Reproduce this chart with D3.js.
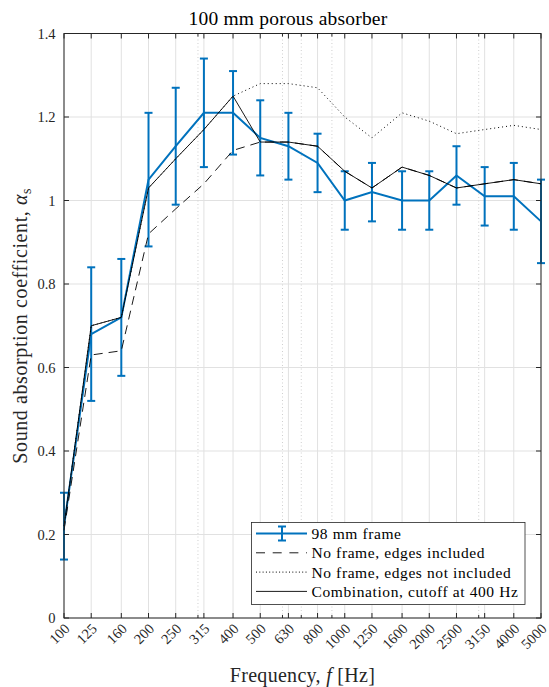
<!DOCTYPE html>
<html>
<head>
<meta charset="utf-8">
<script src="https://cdn.jsdelivr.net/npm/d3@7"></script>
<style>
  body { margin: 0; background: #fff; }
  svg { display: block; font-family: 'Liberation Serif', 'DejaVu Serif', serif; }
</style>
</head>
<body>
<div class="container"></div>
<script>
// third-octave band centre frequencies (Hz)
const freqs = [100, 125, 160, 200, 250, 315, 400, 500, 630, 800, 1000, 1250, 1600, 2000, 2500, 3150, 4000, 5000];
const tickLabels = ['100', '125', '160', '200', '250', '315', '400', '500', '630', '800', '1000', '1250', '1600', '2000', '2500', '3150', '4000', '5000'];
const minorFreqs = [300, 600, 700, 900, 3000];
const yTicks = [0, 0.2, 0.4, 0.6, 0.8, 1, 1.2, 1.4];

// 98 mm frame, mean and error bar limits
const frame98 = [0.22, 0.68, 0.72, 1.05, 1.13, 1.21, 1.21, 1.15, 1.13, 1.09, 1.00, 1.02, 1.00, 1.00, 1.06, 1.01, 1.01, 0.95];
const frame98Low = [0.14, 0.52, 0.58, 0.89, 0.99, 1.08, 1.11, 1.06, 1.05, 1.02, 0.93, 0.95, 0.93, 0.93, 0.99, 0.94, 0.93, 0.85];
const frame98High = [0.30, 0.84, 0.86, 1.21, 1.27, 1.34, 1.31, 1.24, 1.21, 1.16, 1.07, 1.09, 1.07, 1.07, 1.13, 1.08, 1.09, 1.05];

// no frame, edges included
const edgesIn = [0.21, 0.63, 0.64, 0.92, 0.98, 1.04, 1.12, 1.14, 1.14, 1.13, 1.07, 1.03, 1.08, 1.06, 1.03, 1.04, 1.05, 1.04];
// no frame, edges not included
const edgesOut = [0.22, 0.70, 0.72, 1.03, 1.10, 1.17, 1.25, 1.28, 1.28, 1.27, 1.20, 1.15, 1.21, 1.19, 1.16, 1.17, 1.18, 1.17];
// combination, cutoff at 400 Hz
const combined = [0.22, 0.70, 0.72, 1.03, 1.10, 1.17, 1.25, 1.14, 1.14, 1.13, 1.07, 1.03, 1.08, 1.06, 1.03, 1.04, 1.05, 1.04];

const legendLabels = ['98 mm frame', 'No frame, edges included', 'No frame, edges not included', 'Combination, cutoff at 400 Hz'];

const width = 549;
const height = 687;
const margin = { top: 33.5, right: 8, bottom: 69, left: 64 };
const axisColor = '#262626';
const blue = '#0072bd';

const svg = d3
  .select('.container')
  .append('svg')
  .attr('width', width)
  .attr('height', height);

const x = d3.scaleLog().domain([100, 5000]).range([margin.left, width - margin.right]);
const y = d3.scaleLinear().domain([0, 1.4]).range([height - margin.bottom, margin.top]);

const [x0, x1] = x.range();
const [y0, y1] = y.range();

// grid
const grid = svg.append('g').attr('class', 'grid');

grid
  .selectAll('.xgrid')
  .data(freqs)
  .enter()
  .append('line')
  .attr('x1', d => x(d))
  .attr('x2', d => x(d))
  .attr('y1', y0)
  .attr('y2', y1)
  .attr('stroke', '#e1e1e1')
  .attr('stroke-width', 1);

grid
  .selectAll('.ygrid')
  .data(yTicks)
  .enter()
  .append('line')
  .attr('x1', x0)
  .attr('x2', x1)
  .attr('y1', d => y(d))
  .attr('y2', d => y(d))
  .attr('stroke', '#e1e1e1')
  .attr('stroke-width', 1);

grid
  .selectAll('.minor')
  .data(minorFreqs)
  .enter()
  .append('line')
  .attr('x1', d => x(d))
  .attr('x2', d => x(d))
  .attr('y1', y0)
  .attr('y2', y1)
  .attr('stroke', '#cfcfcf')
  .attr('stroke-width', 1)
  .attr('stroke-dasharray', '1,2.5');

// series
const line = d3
  .line()
  .x((d, i) => x(freqs[i]))
  .y(d => y(d));

const plot = svg.append('g').attr('class', 'plot');

const bars = plot
  .selectAll('.err')
  .data(freqs)
  .enter()
  .append('g')
  .attr('stroke', blue)
  .attr('stroke-width', 2);

bars
  .append('line')
  .attr('x1', d => x(d))
  .attr('x2', d => x(d))
  .attr('y1', (d, i) => y(frame98Low[i]))
  .attr('y2', (d, i) => y(frame98High[i]));

bars
  .append('line')
  .attr('x1', d => x(d) - 4)
  .attr('x2', d => x(d) + 4)
  .attr('y1', (d, i) => y(frame98Low[i]))
  .attr('y2', (d, i) => y(frame98Low[i]));

bars
  .append('line')
  .attr('x1', d => x(d) - 4)
  .attr('x2', d => x(d) + 4)
  .attr('y1', (d, i) => y(frame98High[i]))
  .attr('y2', (d, i) => y(frame98High[i]));

plot
  .append('path')
  .attr('d', line(frame98))
  .attr('fill', 'none')
  .attr('stroke', blue)
  .attr('stroke-width', 2);

plot
  .append('path')
  .attr('d', line(edgesIn))
  .attr('fill', 'none')
  .attr('stroke', '#000')
  .attr('stroke-width', 0.9)
  .attr('stroke-dasharray', '9,6');

plot
  .append('path')
  .attr('d', line(edgesOut))
  .attr('fill', 'none')
  .attr('stroke', '#000')
  .attr('stroke-width', 1)
  .attr('stroke-dasharray', '1,3');

plot
  .append('path')
  .attr('d', line(combined))
  .attr('fill', 'none')
  .attr('stroke', '#000')
  .attr('stroke-width', 0.9);

// axes box and ticks
const axes = svg.append('g').attr('class', 'axes').attr('stroke', axisColor);

axes
  .append('rect')
  .attr('x', x0)
  .attr('y', y1)
  .attr('width', x1 - x0)
  .attr('height', y0 - y1)
  .attr('fill', 'none')
  .attr('stroke-width', 1);

const xTickMarks = (data, len) => {
  axes
    .selectAll(null)
    .data(data)
    .enter()
    .append('path')
    .attr('d', d => `M${x(d)},${y0}v${-len}M${x(d)},${y1}v${len}`)
    .attr('stroke-width', 1);
};
xTickMarks(freqs, 5);
xTickMarks(minorFreqs, 3);

axes
  .selectAll(null)
  .data(yTicks)
  .enter()
  .append('path')
  .attr('d', d => `M${x0},${y(d)}h5M${x1},${y(d)}h-5`)
  .attr('stroke-width', 1);

// tick labels
svg
  .append('g')
  .selectAll('text')
  .data(yTicks)
  .enter()
  .append('text')
  .attr('x', x0 - 8.5)
  .attr('y', d => y(d))
  .attr('dy', '0.35em')
  .attr('text-anchor', 'end')
  .attr('font-size', 14.5)
  .attr('fill', axisColor)
  .text(d => d);

svg
  .append('g')
  .selectAll('text')
  .data(freqs)
  .enter()
  .append('text')
  .attr('transform', d => `translate(${x(d) + 3}, ${y0 + 8}) rotate(-45)`)
  .attr('dy', '0.35em')
  .attr('text-anchor', 'end')
  .attr('font-size', 14.5)
  .attr('fill', axisColor)
  .text((d, i) => tickLabels[i]);

// titles
svg
  .append('text')
  .attr('x', 288)
  .attr('y', 25)
  .attr('text-anchor', 'middle')
  .attr('font-size', 19.5)
  .attr('letter-spacing', 0.2)
  .attr('fill', '#000')
  .text('100 mm porous absorber');

const xLabel = svg
  .append('text')
  .attr('x', (x0 + x1) / 2)
  .attr('y', 681.5)
  .attr('text-anchor', 'middle')
  .attr('font-size', 20)
  .attr('letter-spacing', 0.3)
  .attr('fill', axisColor);
xLabel.append('tspan').text('Frequency, ');
xLabel.append('tspan').attr('font-style', 'italic').text('f');
xLabel.append('tspan').text(' [Hz]');

const yLabel = svg
  .append('text')
  .attr('transform', `translate(27, ${(y0 + y1) / 2}) rotate(-90)`)
  .attr('text-anchor', 'middle')
  .attr('font-size', 20)
  .attr('letter-spacing', 0.6)
  .attr('fill', axisColor);
yLabel.append('tspan').text('Sound absorption coefficient, ');
yLabel.append('tspan').attr('font-style', 'italic').text('α');
yLabel.append('tspan').attr('font-size', 14).attr('dy', 4).text('s');

// legend
const legend = svg.append('g').attr('class', 'legend').attr('transform', 'translate(251.5, 522.5)');

legend
  .append('rect')
  .attr('width', 273.5)
  .attr('height', 82)
  .attr('fill', '#fff')
  .attr('stroke', axisColor)
  .attr('stroke-width', 0.8);

const rowY = i => 11 + i * 19.3;
const styles = [
  { stroke: blue, width: 2, dash: null },
  { stroke: '#000', width: 0.9, dash: '9,7.7' },
  { stroke: '#000', width: 1, dash: '1,2.3' },
  { stroke: '#000', width: 0.9, dash: null }
];

const rows = legend
  .selectAll('.row')
  .data(legendLabels)
  .enter()
  .append('g')
  .attr('transform', (d, i) => `translate(0, ${rowY(i)})`);

rows
  .append('line')
  .attr('x1', 4.5)
  .attr('x2', 55.5)
  .attr('stroke', (d, i) => styles[i].stroke)
  .attr('stroke-width', (d, i) => styles[i].width)
  .attr('stroke-dasharray', (d, i) => styles[i].dash);

rows
  .append('text')
  .attr('x', 60)
  .attr('dy', '0.35em')
  .attr('font-size', 15.5)
  .attr('letter-spacing', 0.6)
  .attr('fill', '#000')
  .text(d => d);

const icon = legend.append('g').attr('stroke', blue).attr('stroke-width', 2);
icon.append('path').attr('d', `M30.5,${rowY(0) - 7}v14M26.5,${rowY(0) - 7}h8M26.5,${rowY(0) + 7}h8`);
</script>
</body>
</html>
